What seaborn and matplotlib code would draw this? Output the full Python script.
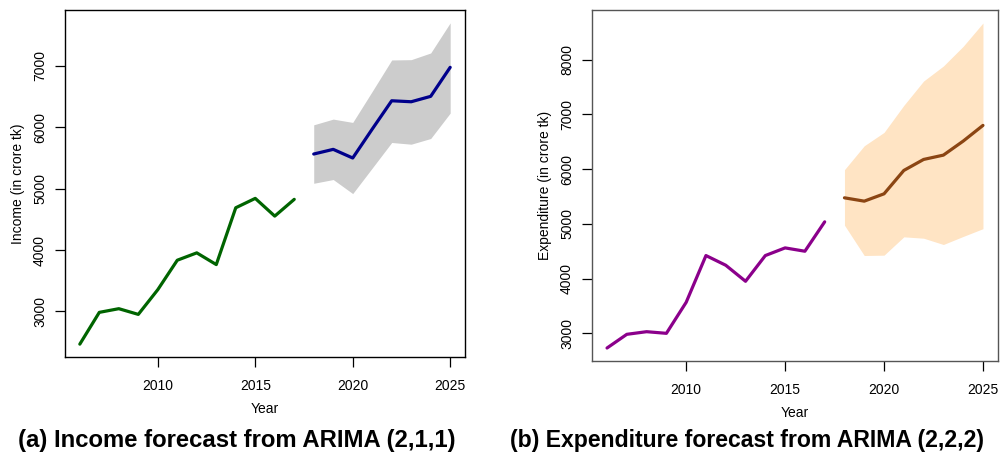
import numpy as np
import pandas as pd
import matplotlib
matplotlib.use("Agg")
import matplotlib.pyplot as plt
import seaborn as sns

# Observed years and forecast horizon
years_obs = [2006, 2007, 2008, 2009, 2010, 2011, 2012, 2013, 2014, 2015, 2016, 2017]
years_fc = [2018, 2019, 2020, 2021, 2022, 2023, 2024, 2025]

# Income (in crore tk): observed series and ARIMA(2,1,1) forecast with interval
income_obs = [2466, 2984, 3044, 2951, 3354, 3834, 3954, 3763, 4689, 4842, 4553, 4826]
income_fc = [5565, 5641, 5500, 5971, 6433, 6417, 6505, 6978]
income_lo = [5088, 5149, 4920, 5336, 5753, 5725, 5818, 6232]
income_hi = [6041, 6134, 6080, 6586, 7098, 7103, 7212, 7703]

# Expenditure (in crore tk): observed series and ARIMA(2,2,2) forecast with interval
exp_obs = [2732, 2982, 3030, 3000, 3567, 4421, 4244, 3951, 4421, 4561, 4500, 5037]
exp_fc = [5476, 5415, 5549, 5976, 6177, 6256, 6512, 6799]
exp_lo = [4976, 4422, 4428, 4763, 4738, 4623, 4770, 4912]
exp_hi = [5990, 6427, 6671, 7165, 7610, 7884, 8244, 8670]

sns.set_style("white")
plt.rcParams["font.family"] = ["Liberation Sans", "DejaVu Sans"]
plt.rcParams["text.color"] = "black"
plt.rcParams["axes.labelcolor"] = "black"
plt.rcParams["xtick.color"] = "black"
plt.rcParams["ytick.color"] = "black"

W, H = 1002, 455
fig = plt.figure(figsize=(W / 100, H / 100), dpi=100)


def box(l, t, r, b):
    return [l / W, 1 - b / H, (r - l) / W, (b - t) / H]


def panel(ax, obs, fc, lo, hi, obs_color, fc_color, band_color, ylabel, yticks, spine_color):
    df_obs = pd.DataFrame({"Year": years_obs, "value": obs})
    df_fc = pd.DataFrame({"Year": years_fc, "value": fc, "lo": lo, "hi": hi})
    ax.fill_between(df_fc["Year"], df_fc["lo"], df_fc["hi"], color=band_color, lw=0, zorder=1)
    sns.lineplot(data=df_obs, x="Year", y="value", ax=ax, color=obs_color, lw=2.3, zorder=3)
    sns.lineplot(data=df_fc, x="Year", y="value", ax=ax, color=fc_color, lw=2.3, zorder=3)

    allv = np.concatenate([obs, lo, hi])
    pad = 0.04 * (allv.max() - allv.min())
    ax.set_ylim(allv.min() - pad, allv.max() + pad)
    xpad = 0.04 * (years_fc[-1] - years_obs[0])
    ax.set_xlim(years_obs[0] - xpad, years_fc[-1] + xpad)

    ax.set_xticks([2010, 2015, 2020, 2025])
    ax.set_yticks(yticks)
    ax.set_yticklabels([str(v) for v in yticks], rotation=90, va="center")
    ax.tick_params(axis="both", direction="out", length=7, width=0.9, colors="black",
                   labelsize=10, pad=5, left=True, bottom=True)
    ax.tick_params(axis="x", pad=9)
    ax.tick_params(axis="y", pad=6)
    for s in ax.spines.values():
        s.set_visible(True)
        s.set_color(spine_color)
        s.set_linewidth(1.0)
    ax.set_xlabel("Year", fontsize=10, labelpad=6)
    ax.set_ylabel(ylabel, fontsize=10, labelpad=6)
    ax.grid(False)


ax1 = fig.add_axes(box(65, 10, 465, 357))
panel(ax1, np.array(income_obs), income_fc, np.array(income_lo), np.array(income_hi),
      "#006400", "#00008B", "#CCCCCC", "Income (in crore tk)",
      [3000, 4000, 5000, 6000, 7000], "black")

ax2 = fig.add_axes(box(592, 10, 998, 361))
panel(ax2, np.array(exp_obs), exp_fc, np.array(exp_lo), np.array(exp_hi),
      "#8B008B", "#8B4513", "#FFE4C4", "Expenditure (in crore tk)",
      [3000, 4000, 5000, 6000, 7000, 8000], "#555555")

fig.text(18 / W, 1 - 440 / H, "(a) Income forecast from ARIMA (2,1,1)",
         fontsize=17.2, fontweight="bold", ha="left", va="center", color="black")
fig.text(510 / W, 1 - 440 / H, "(b) Expenditure forecast from ARIMA (2,2,2)",
         fontsize=16.6, fontweight="bold", ha="left", va="center", color="black")

fig.savefig("out.png", dpi=100)
